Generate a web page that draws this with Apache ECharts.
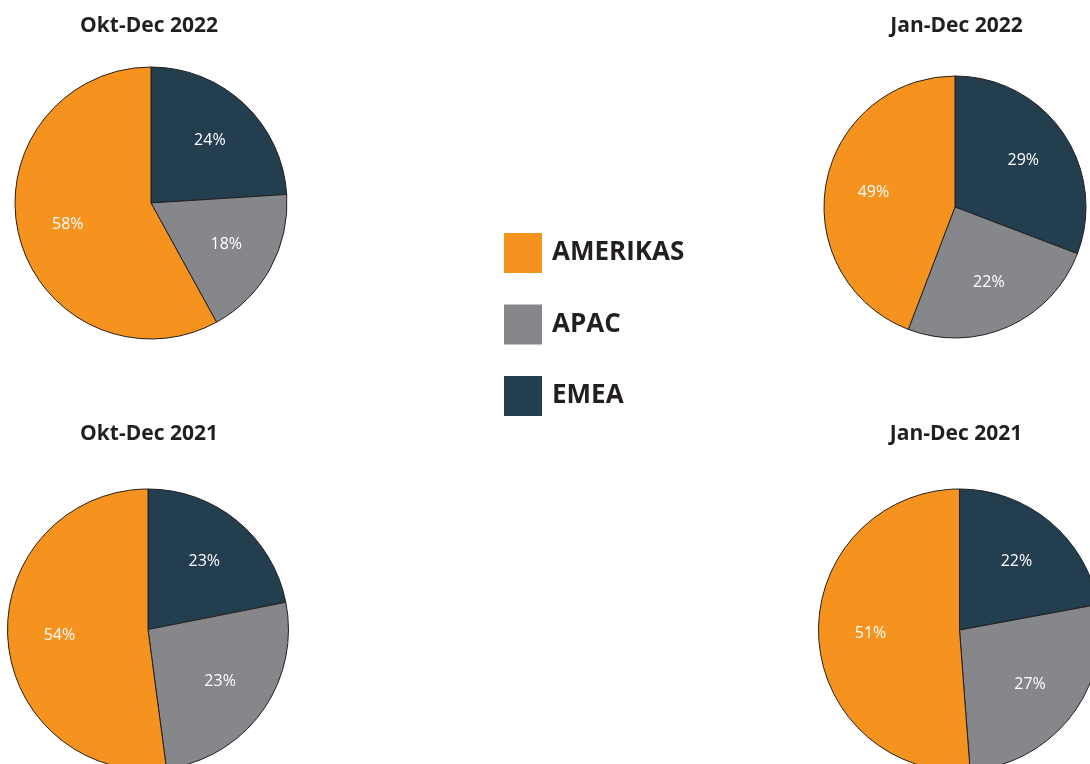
<!DOCTYPE html>
<html>
<head>
<meta charset="utf-8">
<script src="https://cdn.jsdelivr.net/npm/echarts@6/dist/echarts.min.js"></script>
<style>
  html, body { margin: 0; padding: 0; background: #fff; }
  #chart { width: 1090px; height: 764px; }
</style>
</head>
<body>
<div id="chart"></div>
<script>
// regions, clockwise from 12 o'clock
var regions = ["EMEA", "APAC", "AMERIKAS"];
var legendOrder = ["AMERIKAS", "APAC", "EMEA"];
var colors = { EMEA: "#233e4f", APAC: "#86878b", AMERIKAS: "#f6931e" };

// slice shares as drawn in the picture
var oktDec2022 = [24, 18, 58];
var janDec2022 = [30.8, 25, 44.2];
var oktDec2021 = [21.9, 26, 52.1];
var janDec2021 = [22.1, 26.7, 51.2];

// printed percentage labels
var oktDec2022Labels = ["24%", "18%", "58%"];
var janDec2022Labels = ["29%", "22%", "49%"];
var oktDec2021Labels = ["23%", "23%", "54%"];
var janDec2021Labels = ["22%", "27%", "51%"];

var pies = [
  { title: "Okt-Dec 2022", values: oktDec2022, labels: oktDec2022Labels, center: [151, 203], r: 136, titleX: 144, titleY: 11 },
  { title: "Jan-Dec 2022", values: janDec2022, labels: janDec2022Labels, center: [955, 207], r: 131, titleX: 951.5, titleY: 11 },
  { title: "Okt-Dec 2021", values: oktDec2021, labels: oktDec2021Labels, center: [148, 629.5], r: 140.5, titleX: 144, titleY: 419 },
  { title: "Jan-Dec 2021", values: janDec2021, labels: janDec2021Labels, center: [959.5, 630], r: 141, titleX: 951, titleY: 419 }
];

var chart = echarts.init(document.getElementById("chart"));

var titles = [];
var series = [];
pies.forEach(function (p) {
  titles.push({
    text: p.title,
    left: p.titleX,
    top: p.titleY,
    textAlign: "center",
    textStyle: { fontFamily: "Open Sans", fontWeight: "bold", fontSize: 21, color: "#231f20" }
  });
  var data = regions.map(function (name, i) {
    return { name: name, value: p.values[i], itemStyle: { color: colors[name] } };
  });
  // the pie itself
  series.push({
    type: "pie",
    center: p.center,
    radius: [0, p.r],
    startAngle: 90,
    clockwise: true,
    silent: true,
    label: { show: false },
    labelLine: { show: false },
    itemStyle: { borderColor: "#231f20", borderWidth: 1 },
    data: data
  });
  // transparent ring only used to place labels a bit further out
  series.push({
    type: "pie",
    center: p.center,
    radius: [p.r * 0.22, p.r],
    startAngle: 90,
    clockwise: true,
    silent: true,
    itemStyle: { color: "transparent", borderWidth: 0 },
    label: {
      show: true,
      position: "inside",
      color: "#ffffff",
      fontFamily: "Open Sans",
      fontSize: 16,
      formatter: function (d) { return p.labels[d.dataIndex]; }
    },
    labelLine: { show: false },
    legendHoverLink: false,
    data: regions.map(function (name, i) { return { name: name + " ", value: p.values[i] }; })
  });
});

var option = {
  animation: false,
  title: titles,
  legend: {
    data: legendOrder,
    orient: "vertical",
    left: 499,
    top: 228,
    icon: "rect",
    itemWidth: 38,
    itemHeight: 40,
    itemGap: 31.5,
    selectedMode: false,
    itemStyle: { borderWidth: 0 },
    textStyle: {
      fontFamily: "Open Sans",
      fontWeight: "bold",
      fontSize: 26,
      color: "#231f20",
      padding: [0, 0, 0, 5]
    }
  },
  series: series
};

chart.setOption(option);
</script>
</body>
</html>
